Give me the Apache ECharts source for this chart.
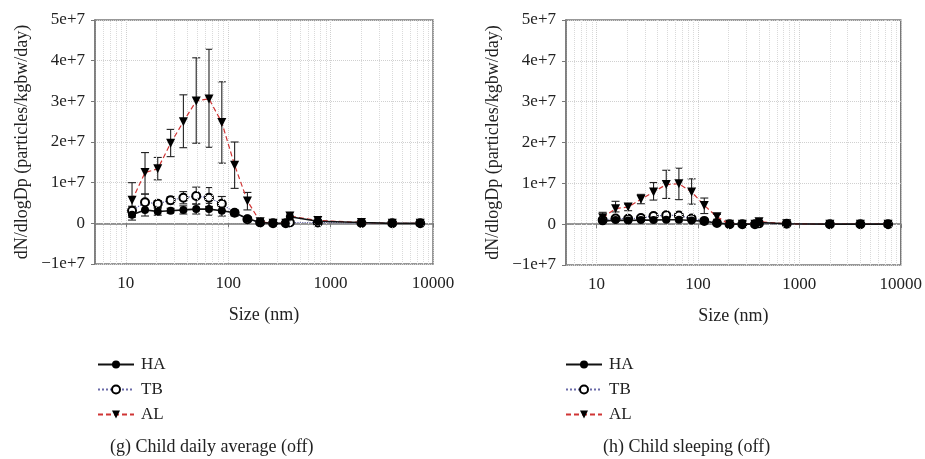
<!DOCTYPE html>
<html><head><meta charset="utf-8">
<script src="https://cdn.jsdelivr.net/npm/echarts@6/dist/echarts.min.js"></script>
<style>html,body{margin:0;padding:0;background:#fff}#c{width:925px;height:459px}</style>
</head><body><div id="c"></div>
<script>
// particle size bins (nm)
const sizes = [11.5, 15.4, 20.5, 27.4, 36.5, 48.7, 64.9, 86.6, 115.5, 154, 205, 274, 365, 400, 750, 2000, 4000, 7500];
const minorGrid = [6,7,8,9,20,30,40,50,60,70,80,90,200,300,400,500,600,700,800,900,2000,3000,4000,5000,6000,7000,8000,9000];
const yTicks = [-1e7, 0, 1e7, 2e7, 3e7, 4e7, 5e7];
const seriesNames = ['HA', 'TB', 'AL'];

// (g) Child daily average (off)
const gHA   = [2.1e6, 3.3e6, 2.9e6, 3.1e6, 3.3e6, 3.5e6, 3.5e6, 3.1e6, 2.6e6, 1.2e6, 2e5, 0, 0, 1.6e6, 5e5, 2e5, 0, 0];
const gHAhi = [3.1e6, 4.9e6, 3.7e6, 3.7e6, 4.3e6, 4.7e6, 4.9e6, 4.3e6, 3.2e6, 1.6e6];
const gHAlo = [0.8e6, 1.8e6, 2.0e6, 2.5e6, 2.3e6, 2.3e6, 2.0e6, 1.8e6, 2.0e6, 0.8e6];
const gTB   = [3.1e6, 5.2e6, 4.8e6, 5.7e6, 6.3e6, 6.7e6, 6.3e6, 4.8e6, 2.6e6, 1.0e6, 2e5, 0, 0, 2e5, 2e5, 1e5, 0, 0];
const gTBhi = [4.2e6, 7.2e6, 5.6e6, 6.5e6, 7.8e6, 8.9e6, 8.8e6, 6.6e6, 3.3e6, 1.6e6];
const gTBlo = [2.0e6, 3.3e6, 3.9e6, 4.8e6, 4.8e6, 4.8e6, 4.1e6, 3.1e6, 1.8e6, 0.4e6];
const gAL   = [5.7e6, 1.25e7, 1.34e7, 1.97e7, 2.5e7, 3.01e7, 3.06e7, 2.48e7, 1.43e7, 5.5e6, 4e5, 0, 0, 1.8e6, 7e5, 2e5, 0, 0];
const gALhi = [1.0e7, 1.74e7, 1.62e7, 2.31e7, 3.16e7, 4.07e7, 4.28e7, 3.48e7, 2.0e7, 7.6e6];
const gALlo = [1.5e6, 7.2e6, 1.07e7, 1.64e7, 1.86e7, 1.97e7, 1.87e7, 1.48e7, 8.6e6, 3.3e6];

// (h) Child sleeping (off)
const hHA   = [0.7e6, 1.0e6, 0.9e6, 1.0e6, 1.0e6, 1.1e6, 1.1e6, 0.9e6, 0.7e6, 0.3e6, 0, 0, 0, 4e5, 1e5, 0, 0, 0];
const hHAhi = [1.0e6, 1.3e6, 1.2e6, 1.3e6, 1.3e6, 1.4e6, 1.4e6, 1.2e6];
const hHAlo = [0.4e6, 0.7e6, 0.6e6, 0.7e6, 0.7e6, 0.8e6, 0.8e6, 0.6e6];
const hTB   = [1.0e6, 1.4e6, 1.3e6, 1.5e6, 2.0e6, 2.2e6, 2.1e6, 1.4e6, 0.8e6, 0.3e6, 0, 0, 0, 2e5, 1e5, 0, 0, 0];
const hTBhi = [1.5e6, 1.9e6, 1.7e6, 2.0e6, 2.5e6, 2.8e6, 2.7e6, 1.9e6];
const hTBlo = [0.6e6, 1.0e6, 0.9e6, 1.0e6, 1.5e6, 1.6e6, 1.5e6, 0.9e6];
const hAL   = [1.6e6, 3.8e6, 4.2e6, 6.1e6, 7.9e6, 9.7e6, 9.9e6, 7.9e6, 4.6e6, 1.8e6, 0, 0, 0, 6e5, 1e5, 0, 0, 0];
const hALhi = [2.9e6, 5.6e6, 4.9e6, 7.3e6, 1.02e7, 1.32e7, 1.37e7, 1.11e7, 6.4e6, 2.4e6];
const hALlo = [0.8e6, 3.0e6, 3.3e6, 5.0e6, 5.9e6, 6.3e6, 6.0e6, 4.9e6, 2.6e6, 1.2e6];

const captions = ['(g) Child daily average (off)', '(h) Child sleeping (off)'];
const yName = 'dN/dlogDp (particles/kgbw/day)';
const xName = 'Size (nm)';

const FONT = '"Liberation Serif", "DejaVu Serif", serif';
const chart = echarts.init(document.getElementById('c'));

function pts(vals) { return sizes.map((s, i) => [s, vals[i]]); }
function errs(lo, hi) {
  const out = [];
  for (let i = 0; i < hi.length; i++) if (hi[i] != null) out.push([sizes[i], lo[i], hi[i]]);
  return out;
}
function yFmt(v) {
  if (v === 0) return '0';
  return (v < 0 ? '\u2212' : '') + Math.round(Math.abs(v) / 1e7) + 'e+7';
}
function errSeries(idx, lo, hi) {
  return {
    type: 'custom', xAxisIndex: idx, yAxisIndex: idx, z: 3, silent: true,
    data: errs(lo, hi),
    renderItem: function (params, api) {
      const x = api.value(0);
      const p1 = api.coord([x, api.value(2)]);
      const p2 = api.coord([x, api.value(1)]);
      const w = 4;
      const st = { stroke: '#222', lineWidth: 1.1 };
      return { type: 'group', children: [
        { type: 'line', shape: { x1: p1[0], y1: p1[1], x2: p2[0], y2: p2[1] }, style: st },
        { type: 'line', shape: { x1: p1[0] - w, y1: p1[1], x2: p1[0] + w, y2: p1[1] }, style: st },
        { type: 'line', shape: { x1: p2[0] - w, y1: p2[1], x2: p2[0] + w, y2: p2[1] }, style: st }
      ]};
    }
  };
}
function lineSeries(idx, name, vals) {
  const base = { type: 'line', name: name, xAxisIndex: idx, yAxisIndex: idx, data: pts(vals), animation: false, z: 4 };
  if (name === 'HA') return Object.assign(base, {
    symbol: 'circle', symbolSize: 8, itemStyle: { color: '#000' },
    lineStyle: { color: '#111', width: 1.6, type: 'solid' }, z: 6 });
  if (name === 'TB') return Object.assign(base, {
    symbol: 'emptyCircle', symbolSize: 8, itemStyle: { color: '#000', borderWidth: 1.3 },
    lineStyle: { color: '#6a6aa8', width: 1.2, type: 'dotted' }, z: 4 });
  return Object.assign(base, {
    symbol: 'triangle', symbolRotate: 180, symbolSize: 9, itemStyle: { color: '#000' },
    lineStyle: { color: '#d03535', width: 1.2, type: [5, 3] }, z: 5 });
}
function gridLines(idx) {
  return {
    type: 'line', xAxisIndex: idx, yAxisIndex: idx, data: [], z: 1, silent: true,
    markLine: { silent: true, symbol: ['none', 'none'], animation: false, label: { show: false },
      lineStyle: { color: '#dadada', type: 'dotted', width: 1 },
      data: minorGrid.map(v => ({ xAxis: v })) }
  };
}

const grids = [
  { left: 95, top: 20, width: 338, height: 244 },
  { left: 566, top: 20, width: 337, height: 245 }
];
const xAxes = grids.map((g, i) => ({
  type: 'log', gridIndex: i, min: 5, max: 10000, logBase: 10,
  name: xName, nameLocation: 'middle', nameGap: 42,
  nameTextStyle: { fontFamily: FONT, fontSize: 18, color: '#222' },
  axisLine: { lineStyle: { color: '#777', width: 1.5 } },
  axisTick: { show: true, length: 4, lineStyle: { color: '#777' } },
  axisLabel: { fontFamily: FONT, fontSize: 17, color: '#222', margin: 11, showMinLabel: false,
    formatter: v => String(Math.round(v)) },
  splitLine: { show: true, lineStyle: { color: '#d0d0d0', type: 'dotted' } }
}));
const yAxes = grids.map((g, i) => ({
  type: 'value', gridIndex: i, min: yTicks[0], max: yTicks[yTicks.length - 1], interval: 1e7,
  name: yName, nameLocation: 'middle', nameGap: 64,
  nameTextStyle: { fontFamily: FONT, fontSize: 18, color: '#222' },
  axisLine: { show: true, lineStyle: { color: '#777', width: 1.5 } },
  axisTick: { show: true, length: 4, lineStyle: { color: '#777' } },
  axisLabel: { fontFamily: FONT, fontSize: 17, color: '#222', margin: 10, formatter: yFmt },
  splitLine: { show: true, lineStyle: { color: '#d0d0d0', type: 'dotted' } }
}));

const series = [
  gridLines(0), gridLines(1),
  errSeries(0, gHAlo, gHAhi), errSeries(0, gTBlo, gTBhi), errSeries(0, gALlo, gALhi),
  errSeries(1, hHAlo, hHAhi), errSeries(1, hTBlo, hTBhi), errSeries(1, hALlo, hALhi),
  lineSeries(0, 'TB', gTB), lineSeries(0, 'AL', gAL), lineSeries(0, 'HA', gHA),
  lineSeries(1, 'TB', hTB), lineSeries(1, 'AL', hAL), lineSeries(1, 'HA', hHA)
];

const legendBase = {
  orient: 'vertical', top: 356, itemWidth: 36, itemHeight: 10, itemGap: 8,
  data: seriesNames, selectedMode: false, padding: 0,
  textStyle: { fontFamily: FONT, fontSize: 17, color: '#222', padding: [0, 0, 0, 2] }
};

chart.setOption({
  animation: false,
  backgroundColor: '#fff',
  grid: grids.map(g => Object.assign({ show: true, borderColor: '#777', borderWidth: 1.5, backgroundColor: 'transparent' }, g)),
  xAxis: xAxes,
  yAxis: yAxes,
  legend: [Object.assign({ left: 97 }, legendBase), Object.assign({ left: 565 }, legendBase)],
  title: [
    { text: captions[0], left: 110, top: 438, padding: 0, textStyle: { fontFamily: FONT, fontSize: 18, fontWeight: 'normal', color: '#222' } },
    { text: captions[1], left: 603, top: 438, padding: 0, textStyle: { fontFamily: FONT, fontSize: 18, fontWeight: 'normal', color: '#222' } }
  ],
  series: series
});
</script></body></html>
